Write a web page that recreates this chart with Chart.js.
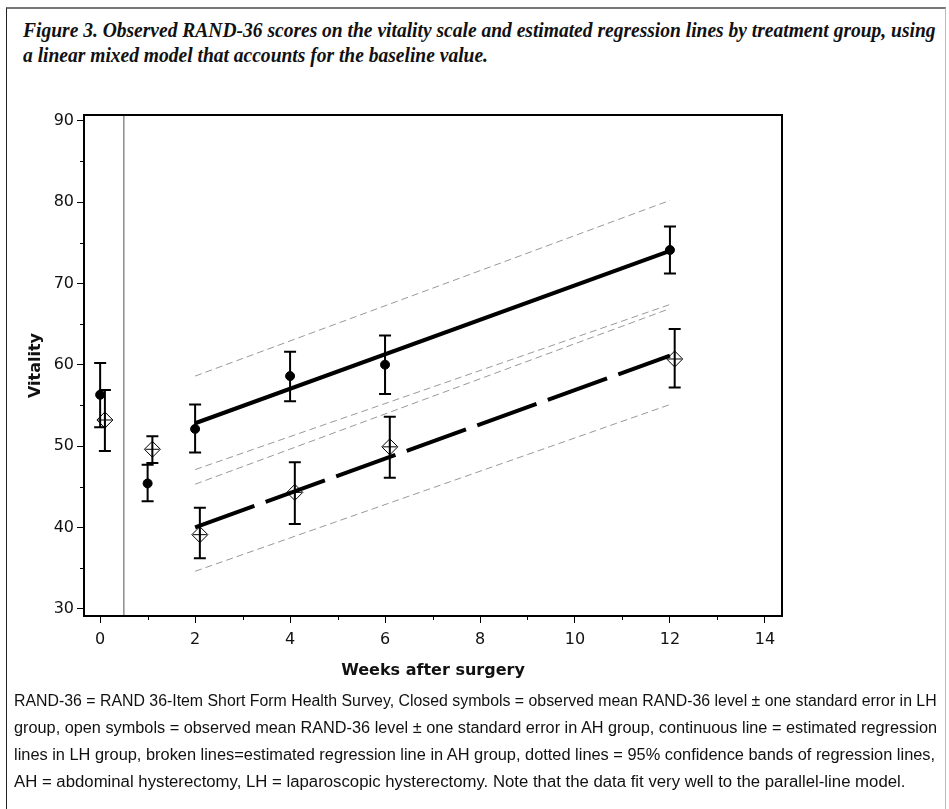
<!DOCTYPE html>
<html>
<head>
<meta charset="UTF-8">
<title>Figure 3 - RAND-36 vitality</title>
<script src="https://cdn.jsdelivr.net/npm/chart.js"></script>
<style>
    body {
        margin: 0;
        width: 949px;
        height: 809px;
        overflow: hidden;
        position: relative;
        background: #fff;
    }
    .frame {
        position: absolute;
        left: 6px;
        top: 7px;
        width: 938px;
        height: 820px;
        border-top: 2px solid #777;
        border-left: 1px solid #222;
        border-right: 1px solid #bbb;
    }
    .title {
        position: absolute;
        left: 23px;
        font: bold italic 20px "Liberation Serif";
        line-height: 20px;
        white-space: nowrap;
        transform-origin: 0 0;
        color: #111;
    }
    .note {
        position: absolute;
        left: 14px;
        font: 16px "Liberation Sans";
        line-height: 16px;
        white-space: nowrap;
        transform-origin: 0 0;
        color: #111;
    }
    #chart {
        position: absolute;
        left: 0;
        top: 0;
    }
</style>
</head>
<body>
<div class="frame"></div>
<div class="title" id="t1" style="top:20px">Figure 3. Observed RAND-36 scores on the vitality scale and estimated regression lines by treatment group, using</div>
<div class="title" id="t2" style="top:45px">a linear mixed model that accounts for the baseline value.</div>

<canvas id="chart" width="949" height="809"></canvas>

<div class="note" id="n1" style="top:693px">RAND-36 = RAND 36-Item Short Form Health Survey, Closed symbols = observed mean RAND-36 level ± one standard error in LH</div>
<div class="note" id="n2" style="top:720px">group, open symbols = observed mean RAND-36 level ± one standard error in AH group, continuous line = estimated regression</div>
<div class="note" id="n3" style="top:747px">lines in LH group, broken lines=estimated regression line in AH group, dotted lines = 95% confidence bands of regression lines,</div>
<div class="note" id="n4" style="top:774px">AH = abdominal hysterectomy, LH = laparoscopic hysterectomy. Note that the data fit very well to the parallel-line model.</div>

<script>
// observed means +- SE, LH group (closed circles)
const weeks = [0, 1, 2, 4, 6, 12];
const lhMean = [56.3, 45.4, 52.1, 58.6, 60.0, 74.1];
const lhHigh = [60.2, 47.7, 55.1, 61.6, 63.6, 77.0];
const lhLow = [52.3, 43.2, 49.2, 55.5, 56.4, 71.2];

// AH group (open diamonds), drawn slightly to the right
const ahWeeks = [0.1, 1.1, 2.1, 4.1, 6.1, 12.1];
const ahMean = [53.2, 49.6, 39.1, 44.3, 49.9, 60.7];
const ahHigh = [56.9, 51.2, 42.4, 48.0, 53.6, 64.4];
const ahLow = [49.4, 47.9, 36.2, 40.4, 46.1, 57.2];

// regression lines and 95% bands, weeks 2..12
const fitWeeks = [2, 12];
const lhFit = [52.8, 74.0];
const ahFit = [40.0, 61.1];
const lhBandHigh = [58.6, 80.2];
const lhBandLow = [47.1, 67.4];
const ahBandHigh = [45.3, 66.9];
const ahBandLow = [34.6, 55.1];

// baseline separator
const baselineCut = 0.5;

const xMin = -0.34, xMax = 14.36;
const yMin = 29.1, yMax = 90.7;

function pts(xs, ys) {
    return xs.map((v, i) => ({ x: v, y: ys[i] }));
}

// squeeze the text lines to the widths in the printed figure
function squeeze(id, target) {
    const el = document.getElementById(id);
    el.style.transform = 'scaleX(' + (target / el.scrollWidth) + ')';
}
(function () {
    const t1 = document.getElementById('t1');
    const s = 913 / t1.scrollWidth;
    t1.style.transform = 'scaleX(' + s + ')';
    document.getElementById('t2').style.transform = 'scaleX(' + s + ')';
    squeeze('n1', 923);
    squeeze('n2', 923);
    squeeze('n3', 921);
    squeeze('n4', 891);
})();

const extras = {
    id: 'extras',
    beforeDatasetsDraw(chart) {
        const { ctx, scales: { x, y } } = chart;
        ctx.save();
        ctx.strokeStyle = '#000';
        ctx.lineWidth = 2;
        [[weeks, lhHigh, lhLow], [ahWeeks, ahHigh, ahLow]].forEach(([xs, hi, lo]) => {
            xs.forEach((w, i) => {
                const px = x.getPixelForValue(w);
                const top = y.getPixelForValue(hi[i]);
                const bot = y.getPixelForValue(lo[i]);
                ctx.beginPath();
                ctx.moveTo(px, top); ctx.lineTo(px, bot);
                ctx.moveTo(px - 6, top); ctx.lineTo(px + 6, top);
                ctx.moveTo(px - 6, bot); ctx.lineTo(px + 6, bot);
                ctx.stroke();
            });
        });
        ctx.restore();
    },
    afterDraw(chart) {
        const { ctx, chartArea: a, scales: { x, y } } = chart;
        ctx.save();
        ctx.strokeStyle = '#000';
        ctx.lineWidth = 2;
        ctx.strokeRect(a.left, a.top, a.right - a.left, a.bottom - a.top);
        // minor ticks
        ctx.lineWidth = 1;
        ctx.beginPath();
        x.ticks.forEach(t => {
            if (t.value % 2 !== 0) {
                const px = Math.round(x.getPixelForValue(t.value)) + 0.5;
                ctx.moveTo(px, a.bottom); ctx.lineTo(px, a.bottom + 4);
            }
        });
        y.ticks.forEach(t => {
            if (t.value % 10 !== 0) {
                const py = Math.round(y.getPixelForValue(t.value)) + 0.5;
                ctx.moveTo(a.left, py); ctx.lineTo(a.left - 4, py);
            }
        });
        ctx.stroke();
        ctx.restore();
    }
};

const axisFont = { family: 'DejaVu Sans', size: 16 };

new Chart(document.getElementById('chart'), {
    type: 'scatter',
    data: {
        datasets: [
            {
                data: pts(weeks, lhMean),
                pointStyle: 'circle',
                pointRadius: 4.5,
                backgroundColor: '#000',
                borderColor: '#000',
                borderWidth: 1
            },
            {
                data: pts(ahWeeks, ahMean),
                pointStyle: 'cross',
                pointRadius: 7,
                borderColor: '#000',
                borderWidth: 1
            },
            {
                data: pts(ahWeeks, ahMean),
                pointStyle: 'rectRot',
                pointRadius: 8,
                backgroundColor: 'rgba(0,0,0,0)',
                borderColor: '#000',
                borderWidth: 1
            },
            {
                data: pts(fitWeeks, lhFit),
                showLine: true,
                pointRadius: 0,
                borderColor: '#000',
                borderWidth: 4
            },
            {
                data: pts(fitWeeks, ahFit),
                showLine: true,
                pointRadius: 0,
                borderColor: '#000',
                borderWidth: 4,
                borderDash: [63, 12]
            },
            ...[lhBandHigh, lhBandLow, ahBandHigh, ahBandLow].map(b => ({
                data: pts(fitWeeks, b),
                showLine: true,
                pointRadius: 0,
                borderColor: '#999',
                borderWidth: 1,
                borderDash: [7, 4]
            })),
            {
                data: pts([baselineCut, baselineCut], [yMin, yMax]),
                showLine: true,
                pointRadius: 0,
                borderColor: '#555',
                borderWidth: 1
            }
        ]
    },
    options: {
        responsive: false,
        animation: false,
        events: [],
        layout: { padding: { left: 20, right: 167, top: 115, bottom: 123 } },
        plugins: {
            legend: { display: false },
            tooltip: { enabled: false }
        },
        scales: {
            x: {
                type: 'linear',
                min: xMin,
                max: xMax,
                afterFit(s) { s.height = 70; },
                border: { display: false },
                grid: {
                    drawOnChartArea: false,
                    tickLength: 7,
                    tickWidth: 1,
                    tickColor: c => (c.tick && c.tick.value % 2 === 0) ? '#000' : 'rgba(0,0,0,0)'
                },
                ticks: {
                    stepSize: 1,
                    includeBounds: false,
                    autoSkip: false,
                    maxRotation: 0,
                    padding: 7,
                    color: '#111',
                    font: axisFont,
                    callback: v => (v % 2 === 0 ? v : '')
                },
                title: {
                    display: true,
                    text: 'Weeks after surgery',
                    color: '#111',
                    font: { family: 'DejaVu Sans', size: 16, weight: 'bold' },
                    padding: { top: 0, bottom: 6 }
                }
            },
            y: {
                min: yMin,
                max: yMax,
                afterFit(s) { s.width = 64; },
                border: { display: false },
                grid: {
                    drawOnChartArea: false,
                    tickLength: 7,
                    tickWidth: 1,
                    tickColor: c => (c.tick && c.tick.value % 10 === 0) ? '#000' : 'rgba(0,0,0,0)'
                },
                ticks: {
                    stepSize: 5,
                    includeBounds: false,
                    autoSkip: false,
                    padding: 3,
                    color: '#111',
                    font: axisFont,
                    callback: v => (v % 10 === 0 ? v : '')
                },
                title: {
                    display: true,
                    text: 'Vitality',
                    color: '#111',
                    font: { family: 'DejaVu Sans', size: 16, weight: 'bold' },
                    padding: { top: 6, bottom: 0 }
                }
            }
        }
    },
    plugins: [extras]
});
</script>
</body>
</html>
